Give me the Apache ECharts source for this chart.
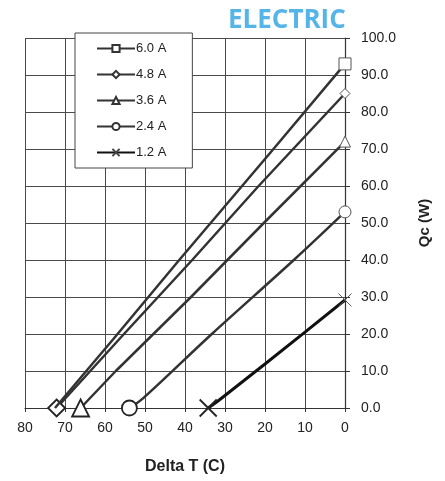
<!DOCTYPE html>
<html><head><meta charset="utf-8">
<script src="https://cdn.jsdelivr.net/npm/echarts@6/dist/echarts.min.js"></script>
<style>html,body{margin:0;padding:0;background:#fff}#c{width:445px;height:481px}</style>
</head><body><div id="c"></div>
<script>
// Delta T (C) vs Qc (W) pairs
const seriesNames = ['6.0 A', '4.8 A', '3.6 A', '2.4 A', '1.2 A'];
const curve60 = [[72.5,0],[57.8,18.8],[41.6,39.8],[18.2,69.6],[0,93]];
const curve48 = [[72.1,0],[55.6,19.6],[38.2,40],[21.6,60],[0,85]];
const curve36 = [[66.1,0],[57.3,10],[38.5,30],[20.3,50],[0,72]];
const curve24 = [[53.9,0],[50.5,2.6],[33.3,20],[12.8,40],[0,53]];
const curve12 = [[34.2,0],[32,1.7],[20,11.9],[10,20.5],[0,29.2]];
const xTicks = [0,10,20,30,40,50,60,70,80];
const yTicks = [0,10,20,30,40,50,60,70,80,90,100];

const symbols = ['rect','diamond','triangle','circle','path://M0,0L10,10M10,0L0,10'];
const startSize = [0,17,17,15,17];
const endSize = [12,10,11,12,13];
const smoothness = [0, 0, 0, 0.35, 0];
const curves = [curve60, curve48, curve36, curve24, curve12];

const chart = echarts.init(document.getElementById('c'), null, {renderer:'canvas'});
const series = curves.map((c, i) => ({
  name: seriesNames[i],
  type: 'line',
  smooth: smoothness[i],
  symbol: symbols[i],
  symbolSize: 8,
  showSymbol: true,
  z: 10 - i,
  lineStyle: {color: i === 4 ? '#111' : '#333', width: i === 4 ? 3 : 2.5},
  itemStyle: {color: '#fff', borderColor: i === 4 ? '#444' : '#333', borderWidth: 1.3},
  data: c.map((p, j) => {
    const last = j === c.length - 1;
    if (j === 0) {
      return startSize[i] ? {value: p, symbolSize: startSize[i], itemStyle: {borderWidth: 1.8, borderColor: '#222'}} : {value: p, symbol: 'none'};
    }
    if (last) return {value: p, symbolSize: endSize[i], itemStyle: {borderWidth: 1, borderColor: '#555'}};
    return {value: p, symbol: 'none'};
  })
}));

chart.setOption({
  animation: false,
  backgroundColor: '#fff',
  textStyle: {fontFamily: 'Liberation Sans, Arial, sans-serif'},
  graphic: [{
    type: 'text', left: 228, top: 8,
    style: {text: 'ELECTRIC', fill: '#55b4e8', font: 'bold 26px "Open Sans"'}
  }],
  grid: {left: 25, right: 100, top: 38, bottom: 73, containLabel: false},
  legend: {
    orient: 'vertical', left: 75, top: 33,
    padding: [9, 26, 9, 21],
    itemWidth: 38, itemHeight: 9, itemGap: 13,
    backgroundColor: '#fff', borderColor: '#444', borderWidth: 1,
    textStyle: {fontSize: 13, color: '#222', padding: [0,0,0,-4]},
    data: seriesNames
  },
  xAxis: {
    type: 'value', inverse: true, min: 0, max: 80, interval: 10,
    name: 'Delta T (C)', nameLocation: 'middle', nameGap: 51,
    nameTextStyle: {fontSize: 16, fontWeight: 'bold', color: '#222'},
    axisLine: {show: true, lineStyle: {color: '#333', width: 1.2}},
    axisTick: {show: true, length: 4, lineStyle: {color: '#333'}},
    axisLabel: {fontSize: 14, color: '#222', margin: 13, formatter: v => xTicks.includes(v) ? String(v) : ''},
    splitLine: {show: true, lineStyle: {color: '#4a4a4a', width: 1}}
  },
  yAxis: {
    type: 'value', position: 'right', min: 0, max: 100, interval: 10,
    name: 'Qc (W)', nameLocation: 'middle', nameGap: 72, nameRotate: 90,
    nameTextStyle: {fontSize: 15, fontWeight: 'bold', color: '#222'},
    axisLine: {show: true, lineStyle: {color: '#333', width: 1.2}},
    axisTick: {show: true, length: 5, lineStyle: {color: '#333'}},
    axisLabel: {fontSize: 14, color: '#222', margin: 16, formatter: v => yTicks.includes(v) ? v.toFixed(1) : ''},
    splitLine: {show: true, lineStyle: {color: '#4a4a4a', width: 1}}
  },
  series: series
});
</script></body></html>
